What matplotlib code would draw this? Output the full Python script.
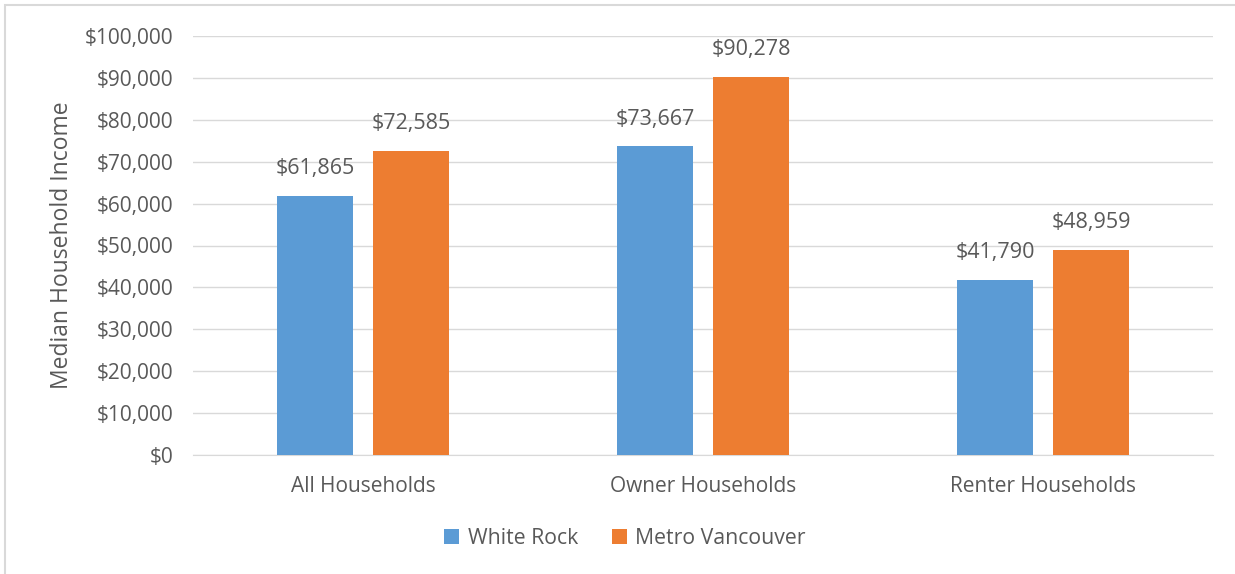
import matplotlib
matplotlib.use("Agg")
import matplotlib.pyplot as plt
from matplotlib.ticker import FuncFormatter, MultipleLocator
from matplotlib.patches import Rectangle
import numpy as np

categories = ["All Households", "Owner Households", "Renter Households"]
white_rock = [61865, 73667, 41790]
metro_vancouver = [72585, 90278, 48959]
series_names = ["White Rock", "Metro Vancouver"]
colors = ["#5B9BD5", "#ED7D31"]
text_color = "#595959"

plt.rcParams['font.family'] = ['Open Sans', 'DejaVu Sans']

fig = plt.figure(figsize=(12.35, 5.74), dpi=100)
ax = fig.add_axes([193/1235, 1 - 455/574, 1020/1235, (455-36)/574])

x = np.arange(len(categories))
w = 0.2235
off = 0.141
b1 = ax.bar(x - off, white_rock, w, color=colors[0], label=series_names[0], zorder=3)
b2 = ax.bar(x + off, metro_vancouver, w, color=colors[1], label=series_names[1], zorder=3)

for bars in (b1, b2):
    for r in bars:
        ax.annotate(f"${r.get_height():,.0f}", (r.get_x() + r.get_width()/2, r.get_height()),
                    xytext=(0, 12), textcoords="offset points", ha="center", va="bottom",
                    fontsize=15.5, color=text_color)

ax.set_xlim(-0.5, 2.5)
ax.set_ylim(0, 100000)
ax.yaxis.set_major_locator(MultipleLocator(10000))
ax.yaxis.set_major_formatter(FuncFormatter(lambda v, p: f"${v:,.0f}"))
ax.set_xticks(x)
ax.set_xticklabels(categories)
ax.grid(axis="y", color="#D9D9D9", linewidth=1, zorder=0)
for s in ["top", "right", "left"]:
    ax.spines[s].set_visible(False)
ax.spines["bottom"].set_color("#D9D9D9")
ax.tick_params(axis="y", length=0, colors=text_color, labelsize=15, pad=14)
ax.tick_params(axis="x", length=0, colors=text_color, labelsize=15, pad=15)
ax.set_ylabel("Median Household Income", fontsize=16.5, color=text_color, labelpad=8)

leg = fig.legend(handles=[b1, b2], labels=series_names, loc="center", bbox_to_anchor=(625/1235, 1 - 538/574),
                 ncol=2, frameon=False, fontsize=15.3, handlelength=0.7, handleheight=0.7,
                 columnspacing=1.6, handletextpad=0.4)
for t in leg.get_texts():
    t.set_color(text_color)

fig.patches.append(Rectangle((5/1235, -0.1), 1.2, 1 - 5/574 + 0.1, transform=fig.transFigure,
                             fill=False, edgecolor="#D9D9D9", linewidth=1.5))

fig.savefig("out.png", dpi=100)
